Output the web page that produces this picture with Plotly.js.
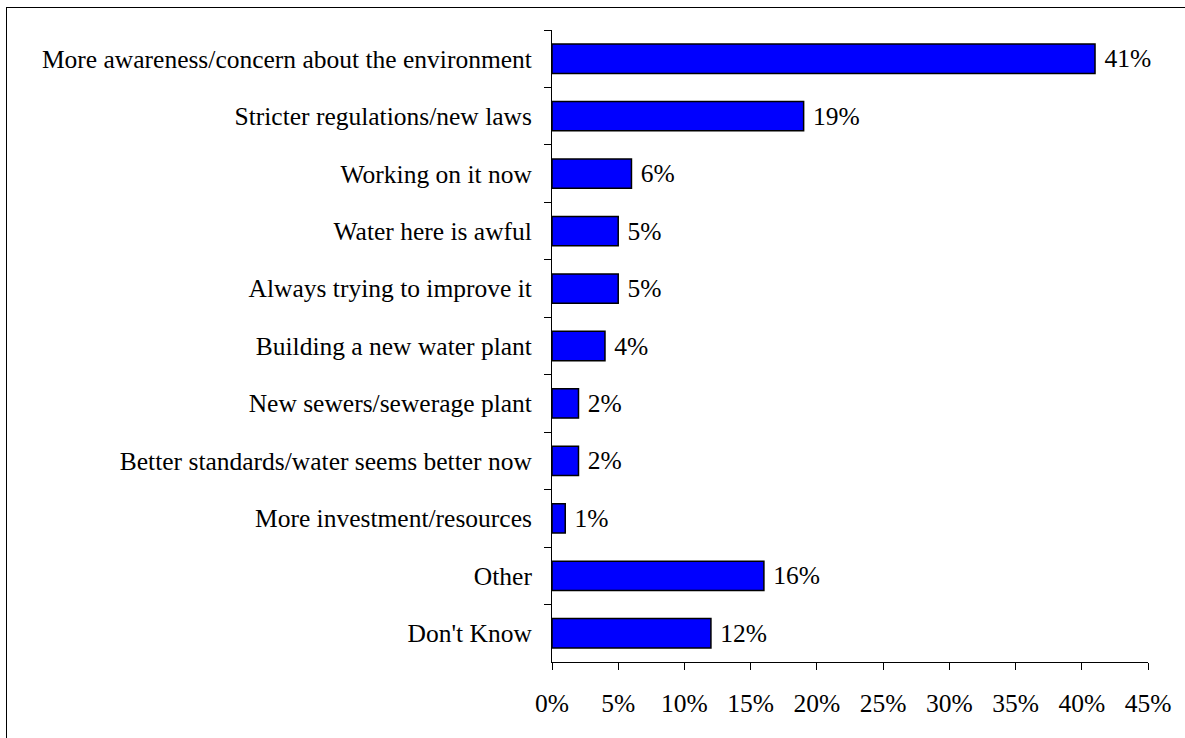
<!DOCTYPE html>
<html>
<head>
<meta charset="utf-8">
<script src="https://cdn.plot.ly/plotly-3.0.1.min.js"></script>
<style>
  html, body { margin: 0; padding: 0; background: #fff; }
  #wrap { position: relative; width: 1185px; height: 738px; overflow: hidden; }
  #frame { position: absolute; left: 6px; top: 7px; width: 1200px; height: 760px; border-left: 1.5px solid #000; border-top: 1.5px solid #000; pointer-events: none; }
  #chart { position: absolute; left: 0; top: 0; width: 1185px; height: 738px; }
</style>
</head>
<body>
<div id="wrap">
  <div id="chart"></div>
  <div id="frame"></div>
</div>
<script>
const categories = [
  "More awareness/concern about the environment",
  "Stricter regulations/new laws",
  "Working on it now",
  "Water here is awful",
  "Always trying to improve it",
  "Building a new water plant",
  "New sewers/sewerage plant",
  "Better standards/water seems better now",
  "More investment/resources",
  "Other",
  "Don't Know"
];
const values = [41, 19, 6, 5, 5, 4, 2, 2, 1, 16, 12];
const xTickVals = [0, 5, 10, 15, 20, 25, 30, 35, 40, 45];
const xTickText = ["0%", "5%", "10%", "15%", "20%", "25%", "30%", "35%", "40%", "45%"];

const fontFam = "Liberation Serif, Times New Roman, serif";
const fs = 25.5;

const trace = {
  type: "bar",
  orientation: "h",
  y: categories,
  x: values,
  text: values.map(v => "\u00a0" + v + "%"),
  textposition: "outside",
  cliponaxis: false,
  textfont: { family: fontFam, size: fs, color: "#000" },
  marker: { color: "#0000FF", line: { color: "#000", width: 1.5 } },
  hoverinfo: "none"
};

const layout = {
  width: 1185,
  height: 738,
  margin: { l: 552, r: 37, t: 30, b: 76, pad: 0 },
  paper_bgcolor: "rgba(0,0,0,0)",
  plot_bgcolor: "rgba(0,0,0,0)",
  showlegend: false,
  bargap: 0.49,
  font: { family: fontFam, size: fs, color: "#000" },
  xaxis: {
    range: [0, 45],
    tickvals: xTickVals,
    ticktext: xTickText,
    ticks: "outside",
    ticklen: 7,
    tickwidth: 1,
    tickcolor: "#000",
    showline: true,
    linecolor: "#000",
    linewidth: 1,
    showgrid: false,
    zeroline: false,
    ticklabelstandoff: 11,
    tickfont: { family: fontFam, size: fs, color: "#000" }
  },
  yaxis: {
    type: "category",
    categoryorder: "array",
    categoryarray: categories,
    autorange: "reversed",
    ticks: "outside",
    tickson: "boundaries",
    ticklen: 7,
    tickwidth: 1,
    tickcolor: "#000",
    showline: true,
    linecolor: "#000",
    linewidth: 1,
    showgrid: false,
    zeroline: false,
    ticklabelstandoff: 14,
    tickfont: { family: fontFam, size: fs, color: "#000" }
  }
};

Plotly.newPlot("chart", [trace], layout, { displayModeBar: false, staticPlot: true });
</script>
</body>
</html>
